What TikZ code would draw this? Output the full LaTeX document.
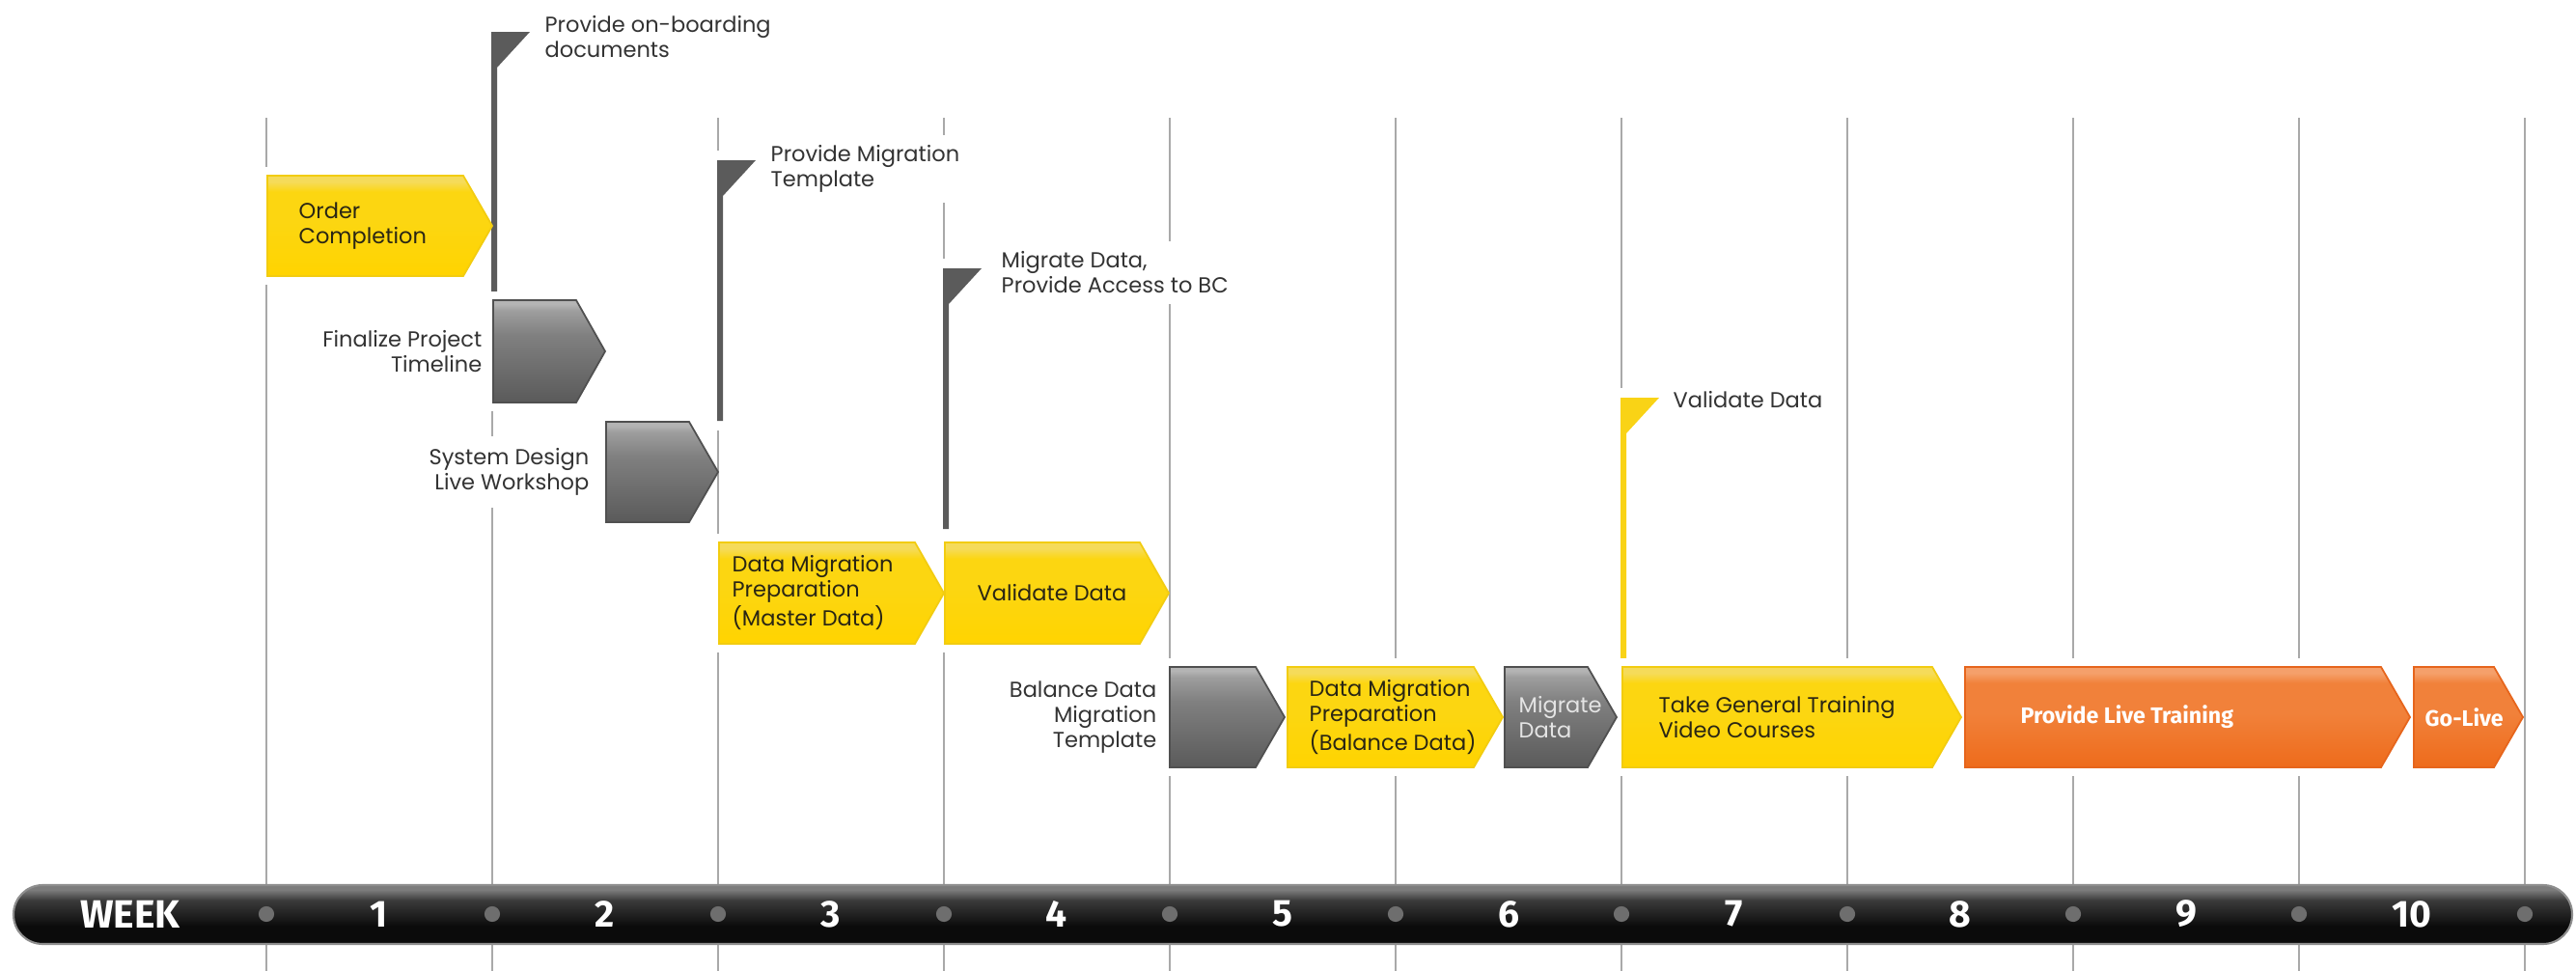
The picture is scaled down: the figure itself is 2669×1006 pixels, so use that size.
\documentclass[tikz,border=0pt]{standalone}
\usepackage{fontspec}
\setmainfont{Poppins}
\newfontfamily\firafont{Fira Sans}
\definecolor{gridc}{HTML}{A9A9A9}
\definecolor{lblc}{HTML}{333333}
\definecolor{intxt}{HTML}{2A2614}
\definecolor{flaggray}{HTML}{5B5B5B}
\definecolor{flagyel}{HTML}{F9D316}
\definecolor{yelB}{HTML}{FFD400}
\definecolor{yelM}{HTML}{FCD611}
\definecolor{yelT}{HTML}{F5DB5A}
\definecolor{yedge}{HTML}{F2CC10}
\definecolor{grB}{HTML}{5A5A5A}
\definecolor{grM}{HTML}{808080}
\definecolor{grT}{HTML}{9E9E9E}
\definecolor{grTT}{HTML}{B4B4B4}
\definecolor{gedge}{HTML}{505050}
\definecolor{orB}{HTML}{EE6B1B}
\definecolor{orM}{HTML}{F1813A}
\definecolor{orT}{HTML}{F5A06B}
\definecolor{oedge}{HTML}{E6651C}
\definecolor{barT}{HTML}{7C7C7C}
\definecolor{barM}{HTML}{3A3A3A}
\definecolor{barB}{HTML}{0B0B0B}
\definecolor{barline}{HTML}{8E8E8E}
\definecolor{dotc}{HTML}{6E6E6E}
\definecolor{migtxt}{HTML}{E4E4E4}
\pgfdeclareverticalshading{ysh}{100bp}{color(0bp)=(yelB); color(25bp)=(yelB); color(52bp)=(yelM); color(67bp)=(yelM); color(72bp)=(yelT); color(75bp)=(yelT); color(100bp)=(yelT)}
\pgfdeclareverticalshading{gsh}{100bp}{color(0bp)=(grB); color(25bp)=(grB); color(58bp)=(grM); color(70bp)=(grT); color(73bp)=(grTT); color(75bp)=(grTT); color(100bp)=(grTT)}
\pgfdeclareverticalshading{osh}{100bp}{color(0bp)=(orB); color(25bp)=(orB); color(52bp)=(orM); color(67bp)=(orM); color(72bp)=(orT); color(75bp)=(orT); color(100bp)=(orT)}
\pgfdeclareverticalshading{barsh}{100bp}{color(0bp)=(barB); color(25bp)=(barB); color(40bp)=(barB); color(62bp)=(barM); color(71bp)=(barT); color(75bp)=(barT); color(100bp)=(barT)}
\tikzset{
  gridline/.style={draw=gridc, line width=0.6pt},
  lbl/.style={font=\fontsize{6.4}{7.4}\selectfont, text=lblc, align=left, inner sep=0pt},
  lblbg/.style={lbl, fill=white, inner xsep=1pt, inner ysep=3pt},
  lblr/.style={lbl, align=right, anchor=east},
  intext/.style={font=\fontsize{6.4}{7.4}\selectfont, text=intxt, align=left, inner sep=0pt, anchor=west},
  migtext/.style={intext, text=migtxt},
  boldw/.style={font=\firafont\bfseries\fontsize{6.6}{7.4}\selectfont, text=white, inner sep=0pt, anchor=west},
  barnum/.style={font=\firafont\bfseries\fontsize{11.1}{12}\selectfont, text=white, inner sep=0pt},
}
\begin{document}
\begin{tikzpicture}[x=0.01cm,y=-0.01cm]
\useasboundingbox (0,0) rectangle (2669,1006);
\fill[white] (0,0) rectangle (2669,1006);

% week grid lines
\foreach \i in {0,...,10}{
  \coordinate (g\i) at ({276+234*\i},122);
  \draw[gridline] (g\i) -- ++(0,884);
}

% labels outside the boxes
\node[lbl, anchor=north west] (f1t) at (564,16) {Provide on-boarding\\documents};
\node[lblbg, anchor=north west] (f2t) at (794.5,139.5) {Provide Migration\\Template};
\node[lblbg, anchor=north west] (f3t) at (1033.5,249.5) {Migrate Data,\\Provide Access to BC};
\node[lbl, anchor=north west] (f4t) at (1733,405) {Validate Data};
\node[lblr] (finl) at (500,364) {Finalize Project\\Timeline};
\node[lblr, fill=white, inner xsep=0pt, inner ysep=3.5pt] (sysl) at (611,489) {System Design\\Live Workshop};
\node[lblr] (ball) at (1199,743) {Balance Data\\Migration\\Template};

% flags
\foreach \c/\fx/\ft/\fb in {flaggray/510/33/304, flaggray/744/166/436, flaggray/978/278/548, flagyel/1680/412/683}{
  \fill[white] ({\fx-4},{\ft-10}) rectangle ({\fx+8},{\fb+10});
  \fill[\c] ({\fx-1},\ft) -- ({\fx+39},\ft) -- ({\fx+5},{\ft+37}) -- ({\fx+5},\fb) -- ({\fx-1},\fb) -- cycle;
}

% box halos
\foreach \xa/\ya/\xb/\yb in {277/182/510/286, 511/311/627/417, 628/437/744/541, 745/562/978/667, 979/562/1211/667, 1212/691/1331/795, 1334/691/1557/795, 1559/691/1675/795, 1681/691/2032/795, 2036/691/2497/795, 2501/691/2614/795}{
  \fill[white] ({\xa-2},{\ya-9}) rectangle ({\xb-2},{\yb+9});
}
% chevron boxes
\foreach \s/\e/\xa/\ya/\xb/\yb in {ysh/yedge/277/182/510/286, gsh/gedge/511/311/627/417, gsh/gedge/628/437/744/541, ysh/yedge/745/562/978/667, ysh/yedge/979/562/1211/667, gsh/gedge/1212/691/1331/795, ysh/yedge/1334/691/1557/795, gsh/gedge/1559/691/1675/795, ysh/yedge/1681/691/2032/795, osh/oedge/2036/691/2497/795, osh/oedge/2501/691/2614/795}{
  \shadedraw[shading=\s, draw=\e, line width=0.5pt, line join=miter]
    (\xa,\ya) -- ({\xb-30},\ya) -- (\xb,{(\ya+\yb)/2}) -- ({\xb-30},\yb) -- (\xa,\yb) -- cycle;
}

% texts inside boxes
\node[intext] (oc) at (309,234) {Order\\Completion};
\node[intext] (dmm) at (758,614) {Data Migration\\Preparation\\(Master Data)};
\node[intext] (vd) at (1012,614) {Validate Data};
\node[intext] (dmb) at (1356,743) {Data Migration\\Preparation\\(Balance Data)};
\node[migtext] (mig) at (1573,743) {Migrate\\Data};
\node[intext] (tgt) at (1718,743) {Take General Training\\Video Courses};
\node[boldw] (plt) at (2093,743) {Provide Live Training};
\node[boldw] (gol) at (2512,743) {Go-Live};

% week bar
\shadedraw[shading=barsh, draw=barline, line width=0.6pt, rounded corners=8.6pt] (14,917) rectangle (2665,978);
\foreach \i in {0,...,10}{
  \fill[dotc] ({276+234*\i},947) circle [radius=2.3pt];
}
\node[barnum, font=\firafont\bfseries\fontsize{11.6}{12}\selectfont] (week) at (135,947) {WEEK};
\foreach \n in {1,...,10}{
  \node[barnum] (w\n) at ({276+234*(\n-0.5)},947) {\n};
}
\end{tikzpicture}
\end{document}
